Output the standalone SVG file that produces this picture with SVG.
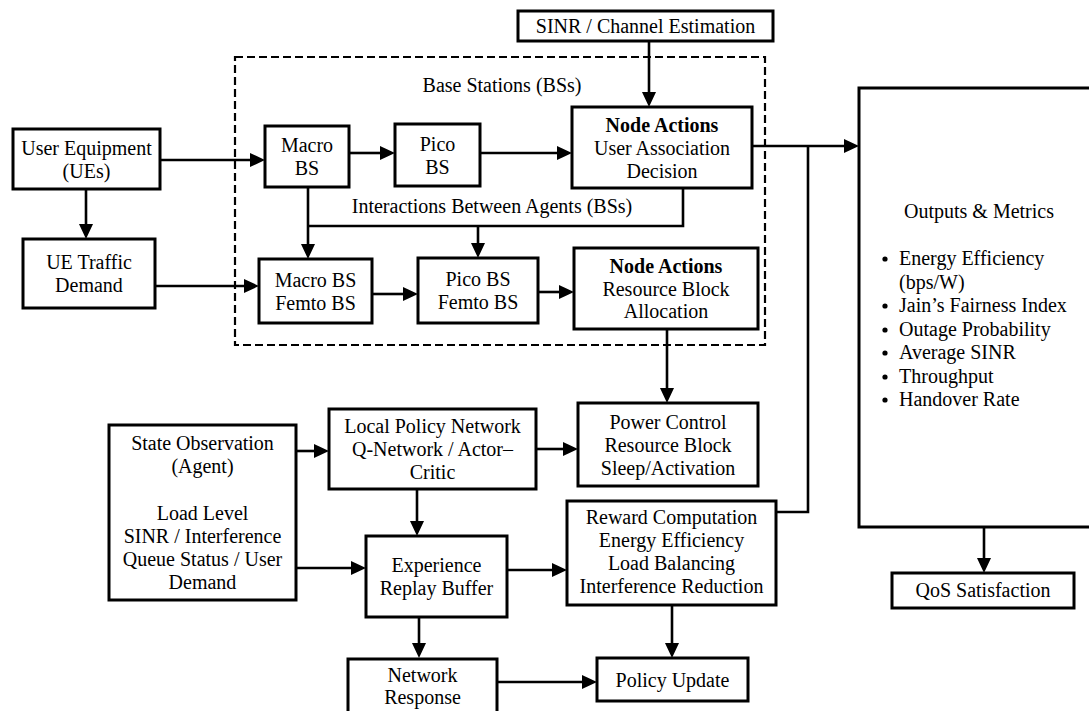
<svg xmlns="http://www.w3.org/2000/svg" width="1089" height="711" viewBox="0 0 1089 711">
  <style>
    .box { fill: #ffffff; stroke: #000000; stroke-width: 3; }
    .group { fill: none; stroke: #000000; stroke-width: 2.2; stroke-dasharray: 8 4; }
    .wire { fill: none; stroke: #000000; stroke-width: 2.6; }
    .arrow { fill: none; stroke: #000000; stroke-width: 2.6; marker-end: url(#head); }
    text { font-family: "Liberation Serif", "Times New Roman", serif; font-size: 20px; fill: #000000; }
    .c { text-anchor: middle; }
    .b { font-weight: bold; }
  </style>
  <defs>
    <marker id="head" markerUnits="userSpaceOnUse" markerWidth="16" markerHeight="14" refX="0" refY="7" orient="auto">
      <path d="M0,0 L15,7 L0,14 z" fill="#000000"/>
    </marker>
  </defs>
  <rect width="1089" height="711" fill="#ffffff"/>

  <!-- base station cluster boundary -->
  <g id="bs-cluster">
    <rect class="group" x="235" y="57" width="530" height="288"/>
    <text class="c" x="502" y="92">Base Stations (BSs)</text>
    <text class="c" x="492" y="213">Interactions Between Agents (BSs)</text>
  </g>

  <!-- connectors -->
  <g id="connectors">
    <path class="arrow" d="M160,160 H250"/>
    <path class="arrow" d="M86,189 V224"/>
    <path class="arrow" d="M349,153 H380"/>
    <path class="arrow" d="M480,153 H557"/>
    <path class="arrow" d="M649,41 V92"/>
    <path class="arrow" d="M308,187 V244"/>
    <path class="wire" d="M308,226 H683 V189"/>
    <path class="arrow" d="M478,226 V243"/>
    <path class="arrow" d="M155,286 H244"/>
    <path class="arrow" d="M372,294 H403"/>
    <path class="arrow" d="M538,292 H559"/>
    <path class="arrow" d="M667,329 V388"/>
    <path class="arrow" d="M752,146 H844"/>
    <path class="wire" d="M776,512 H808 V146"/>
    <path class="arrow" d="M296,451 H314"/>
    <path class="arrow" d="M536,449 H563"/>
    <path class="arrow" d="M417,489 V521"/>
    <path class="arrow" d="M296,568 H351"/>
    <path class="arrow" d="M507,570 H552"/>
    <path class="arrow" d="M419,617 V643"/>
    <path class="arrow" d="M672,606 V643"/>
    <path class="arrow" d="M497,682 H582"/>
    <path class="arrow" d="M984,527 V558"/>
  </g>

  <g id="sinr">
    <rect class="box" x="518" y="11" width="255" height="30"/>
    <text class="c" x="645.5" y="33">SINR / Channel Estimation</text>
  </g>

  <g id="ue">
    <rect class="box" x="13" y="129" width="147" height="60"/>
    <text class="c" x="86.5" y="155">User Equipment</text>
    <text class="c" x="86.5" y="178">(UEs)</text>
  </g>

  <g id="ue-traffic">
    <rect class="box" x="23" y="239" width="132" height="69"/>
    <text class="c" x="89" y="269">UE Traffic</text>
    <text class="c" x="89" y="292">Demand</text>
  </g>

  <g id="macro-bs">
    <rect class="box" x="265" y="126" width="84" height="61"/>
    <text class="c" x="307" y="152">Macro</text>
    <text class="c" x="307" y="175">BS</text>
  </g>

  <g id="pico-bs">
    <rect class="box" x="395" y="124" width="85" height="62"/>
    <text class="c" x="437.5" y="150.5">Pico</text>
    <text class="c" x="437.5" y="173.5">BS</text>
  </g>

  <g id="node-actions-assoc">
    <rect class="box" x="572" y="107" width="180" height="81"/>
    <text class="c b" x="662" y="132">Node Actions</text>
    <text class="c" x="662" y="155">User Association</text>
    <text class="c" x="662" y="178">Decision</text>
  </g>

  <g id="macro-femto">
    <rect class="box" x="259" y="259" width="113" height="64"/>
    <text class="c" x="315.5" y="287">Macro BS</text>
    <text class="c" x="315.5" y="310">Femto BS</text>
  </g>

  <g id="pico-femto">
    <rect class="box" x="418" y="258" width="120" height="65"/>
    <text class="c" x="478" y="286">Pico BS</text>
    <text class="c" x="478" y="309">Femto BS</text>
  </g>

  <g id="node-actions-rb">
    <rect class="box" x="574" y="248" width="184" height="81"/>
    <text class="c b" x="666" y="273">Node Actions</text>
    <text class="c" x="666" y="296">Resource Block</text>
    <text class="c" x="666" y="318">Allocation</text>
  </g>

  <g id="power-control">
    <rect class="box" x="578" y="403" width="180" height="83"/>
    <text class="c" x="668" y="429">Power Control</text>
    <text class="c" x="668" y="452">Resource Block</text>
    <text class="c" x="668" y="475">Sleep/Activation</text>
  </g>

  <g id="state-observation">
    <rect class="box" x="109" y="425" width="187" height="175"/>
    <text class="c" x="202.5" y="450">State Observation</text>
    <text class="c" x="202.5" y="473">(Agent)</text>
    <text class="c" x="202.5" y="520">Load Level</text>
    <text class="c" x="202.5" y="543">SINR / Interference</text>
    <text class="c" x="202.5" y="566">Queue Status / User</text>
    <text class="c" x="202.5" y="589">Demand</text>
  </g>

  <g id="policy-network">
    <rect class="box" x="329" y="409" width="207" height="80"/>
    <text class="c" x="432.5" y="433">Local Policy Network</text>
    <text class="c" x="432.5" y="456">Q-Network / Actor–</text>
    <text class="c" x="432.5" y="479">Critic</text>
  </g>

  <g id="replay-buffer">
    <rect class="box" x="366" y="536" width="141" height="81"/>
    <text class="c" x="436.5" y="572">Experience</text>
    <text class="c" x="436.5" y="595">Replay Buffer</text>
  </g>

  <g id="reward">
    <rect class="box" x="567" y="501" width="209" height="104"/>
    <text class="c" x="671.5" y="524">Reward Computation</text>
    <text class="c" x="671.5" y="547">Energy Efficiency</text>
    <text class="c" x="671.5" y="570">Load Balancing</text>
    <text class="c" x="671.5" y="593">Interference Reduction</text>
  </g>

  <g id="network-response">
    <rect class="box" x="348" y="659" width="149" height="70"/>
    <text class="c" x="422.5" y="682">Network</text>
    <text class="c" x="422.5" y="704">Response</text>
  </g>

  <g id="policy-update">
    <rect class="box" x="597" y="658" width="151" height="43"/>
    <text class="c" x="672.5" y="687">Policy Update</text>
  </g>

  <g id="outputs">
    <rect class="box" x="859" y="88" width="260" height="439"/>
    <text class="c" x="979" y="218">Outputs &amp; Metrics</text>
    <g fill="#000000">
      <circle cx="885" cy="259" r="2.6"/>
      <circle cx="885" cy="306" r="2.6"/>
      <circle cx="885" cy="330" r="2.6"/>
      <circle cx="885" cy="353" r="2.6"/>
      <circle cx="885" cy="377" r="2.6"/>
      <circle cx="885" cy="400" r="2.6"/>
    </g>
    <text x="899" y="265">Energy Efficiency</text>
    <text x="899" y="289">(bps/W)</text>
    <text x="899" y="312">Jain’s Fairness Index</text>
    <text x="899" y="336">Outage Probability</text>
    <text x="899" y="359">Average SINR</text>
    <text x="899" y="383">Throughput</text>
    <text x="899" y="406">Handover Rate</text>
  </g>

  <g id="qos">
    <rect class="box" x="892" y="573" width="182" height="35"/>
    <text class="c" x="983" y="597">QoS Satisfaction</text>
  </g>
</svg>
